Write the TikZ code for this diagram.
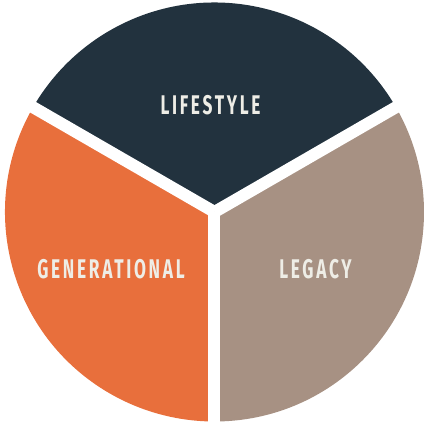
\documentclass[tikz,border=0pt]{standalone}
\usepackage{fontspec}
\newfontfamily\piefont[FakeStretch=0.64,LetterSpace=10]{Fira Sans}
\definecolor{navy}{HTML}{22323E}
\definecolor{rust}{HTML}{E86F3C}
\definecolor{taupe}{HTML}{A79183}
\definecolor{cream}{HTML}{EEEDE6}
\tikzstyle{slice} = [draw=none]
\tikzstyle{gap}   = [draw=white, line width=12pt]
\tikzstyle{label} = [text=cream, font=\piefont\bfseries\fontsize{27}{27}\selectfont, inner sep=0pt]

\begin{document}
\begin{tikzpicture}[x=1pt, y=1pt]
            \useasboundingbox (-214.5,-211) rectangle (209.5,212);
            \coordinate (centre) at (0,0);

            \fill[slice, navy]  (centre) -- (30:209.5) arc (30:150:209.5) -- cycle;
            \fill[slice, rust]  (centre) -- (150:209.5) arc (150:270:209.5) -- cycle;
            \fill[slice, taupe] (centre) -- (270:209.5) arc (270:390:209.5) -- cycle;

            \coordinate (cutright) at (30:216);
            \coordinate (cutleft)  at (150:216);
            \coordinate (cutdown)  at (270:216);
            \draw[gap] (centre) -- (cutright);
            \draw[gap] (centre) -- (cutleft);
            \draw[gap] (centre) -- (cutdown);

            \node[label] (lifestyle)    at (-4,106.5)   {LIFESTYLE};
            \node[label] (generational) at (-103.5,-57) {GENERATIONAL};
            \node[label] (legacy)       at (101,-57)    {LEGACY};
        \end{tikzpicture}
\end{document}
